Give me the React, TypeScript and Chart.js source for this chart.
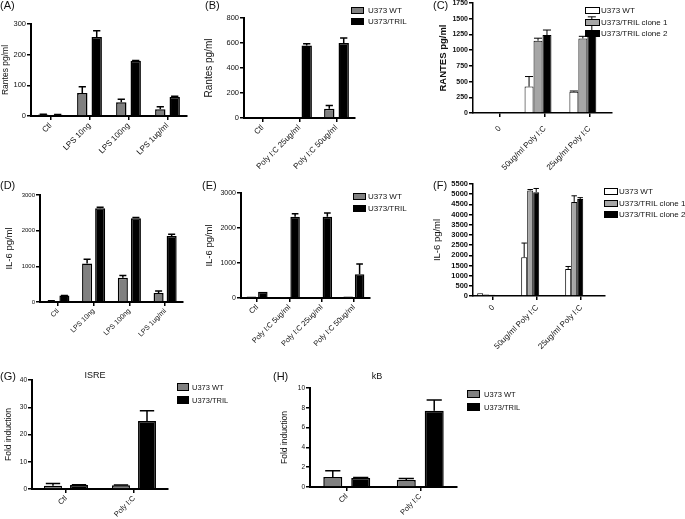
import React, { useEffect, useRef } from "react";
import { Chart, registerables } from "chart.js";

Chart.register(...registerables);

const W = 685;
const H = 519;
const FONT = "'Liberation Sans', Arial, Helvetica, sans-serif";

// ---------- data ----------
const lpsCats = ["Ctl", "LPS 10ng", "LPS 100ng", "LPS 1ug/ml"];
const bCats = ["Ctl", "Poly I:C 25ug/ml", "Poly I:C 50ug/ml"];
const cloneCatsC = ["0", "50ug/ml Poly I:C", "25ug/ml Poly I:C"];
const eCats = ["Ctl", "Poly I:C 5ug/ml", "Poly I:C 25ug/ml", "Poly I:C 50ug/ml"];
const cloneCatsF = ["0", "50ug/ml Poly I:C", "25ug/ml Poly I:C"];
const repCats = ["Ctl", "Poly I:C"];

const aWT = [5, 75, 45, 22];
const aWTErr = [1, 20, 10, 8];
const aTRIL = [4, 258, 180, 62];
const aTRILErr = [1, 20, 1, 2];

const bWT = [5, 5, 75];
const bWTErr = [0, 0, 25];
const bTRIL = [5, 580, 600];
const bTRILErr = [0, 15, 40];

const cWT = [10, 420, 340];
const cWTErr = [0, 160, 10];
const cClone1 = [0, 1150, 1185];
const cClone1Err = [0, 40, 35];
const cClone2 = [0, 1240, 1320];
const cClone2Err = [0, 80, 210];

const dWT = [30, 1080, 680, 250];
const dWTErr = [5, 120, 60, 60];
const dTRIL = [180, 2630, 2350, 1850];
const dTRILErr = [5, 30, 20, 50];

const eWT = [40, 30, 20, 40];
const eWTErr = [0, 0, 0, 0];
const eTRIL = [180, 2320, 2320, 680];
const eTRILErr = [0, 90, 110, 290];

const fWT = [130, 1900, 1330];
const fWTErr = [0, 700, 120];
const fClone1 = [70, 5180, 4620];
const fClone1Err = [0, 50, 300];
const fClone2 = [60, 5100, 4760];
const fClone2Err = [0, 180, 70];

const gWT = [1.2, 1.4];
const gWTErr = [0.8, 0.1];
const gTRIL = [1.5, 25];
const gTRILErr = [0.1, 3.7];

const hWT = [1.0, 0.7];
const hWTErr = [0.65, 0.15];
const hTRIL = [0.9, 7.7];
const hTRILErr = [0.05, 1.1];

// ---------- styles ----------
const GRAY = "#808080";
const LGRAY = "#a6a6a6";
const BLACK = "#000000";
const WHITE = "#ffffff";

type Series = { label: string; values: number[]; errors: number[]; fill: string };
type Spec = {
  cats: string[];
  series: Series[];
  plot: { l: number; t: number; r: number; b: number };
  yMax: number;
  yStep: number;
  yTitle: string;
  titleX: number;
  titleSize: number;
  titleBold?: boolean;
  tickSize: number;
  tickBold?: boolean;
  xSize: number;
  xPad: number;
  catPct: number;
  barPct: number;
  xMin: number;
  xMax: number;
  shift: number;
  axisW: number;
  barBorder: number;
  errW: number;
  cap: number;
};

const errorBarPlugin = {
  id: "errbars",
  afterDatasetsDraw(chart: any, _args: any, opts: any) {
    const ctx = chart.ctx;
    const yScale = chart.scales.y;
    chart.data.datasets.forEach((ds: any, di: number) => {
      const meta = chart.getDatasetMeta(di);
      const errs: number[] = ds.errors || [];
      meta.data.forEach((bar: any, i: number) => {
        const e = errs[i];
        if (!e) return;
        const v = ds.data[i].y;
        const yTop = yScale.getPixelForValue(v + e);
        const { x, y, width } = bar.getProps(["x", "y", "width"], true);
        const c = width * opts.cap;
        ctx.save();
        ctx.strokeStyle = "#000";
        ctx.lineWidth = opts.width;
        ctx.beginPath();
        ctx.moveTo(x, y);
        ctx.lineTo(x, yTop);
        ctx.moveTo(x - c, yTop);
        ctx.lineTo(x + c, yTop);
        ctx.stroke();
        ctx.restore();
      });
    });
  },
};

const wt = (values: number[], errors: number[], fill = GRAY): Series => ({ label: "U373 WT", values, errors, fill });
const tril = (values: number[], errors: number[]): Series => ({ label: "U373/TRIL", values, errors, fill: BLACK });

const common = { xMin: -0.5, shift: 0, axisW: 2, barBorder: 1.5, errW: 1.5, cap: 0.35, xPad: 1 };

const specA: Spec = {
  ...common, cats: lpsCats, series: [wt(aWT, aWTErr), tril(aTRIL, aTRILErr)],
  plot: { l: 31, t: 24, r: 187, b: 116 }, yMax: 300, yStep: 100,
  yTitle: "Rantes pg/ml", titleX: 5.2, titleSize: 8.5, tickSize: 7.5, xSize: 8,
  catPct: 0.74, barPct: 0.72, xMax: 3.5,
};
const specB: Spec = {
  ...common, cats: bCats, series: [wt(bWT, bWTErr), tril(bTRIL, bTRILErr)],
  plot: { l: 244, t: 18, r: 355, b: 118 }, yMax: 800, yStep: 200,
  yTitle: "Rantes pg/ml", titleX: 209.5, titleSize: 10, tickSize: 7.5, xSize: 8,
  catPct: 0.78, barPct: 0.72, xMax: 2.5,
};
const specC: Spec = {
  cats: cloneCatsC,
  series: [
    { label: "U373 WT", values: cWT, errors: cWTErr, fill: WHITE },
    { label: "U373/TRIL clone 1", values: cClone1, errors: cClone1Err, fill: LGRAY },
    { label: "U373/TRIL clone 2", values: cClone2, errors: cClone2Err, fill: BLACK },
  ],
  plot: { l: 473, t: 3, r: 612, b: 113 }, yMax: 1750, yStep: 250,
  yTitle: "RANTES pg/ml", titleX: 443, titleSize: 9.5, titleBold: true, tickSize: 7, tickBold: true, xSize: 8, xPad: 7,
  catPct: 0.6, barPct: 1, xMin: -0.45, xMax: 2.65, shift: 0.15, axisW: 1.5, barBorder: 1, errW: 1, cap: 0.45,
};
const specD: Spec = {
  ...common, cats: lpsCats, series: [wt(dWT, dWTErr), tril(dTRIL, dTRILErr)],
  plot: { l: 40, t: 195, r: 183, b: 302 }, yMax: 3000, yStep: 1000,
  yTitle: "IL-6 pg/ml", titleX: 9, titleSize: 9.5, tickSize: 6, xSize: 7,
  catPct: 0.73, barPct: 0.77, xMax: 3.5,
};
const specE: Spec = {
  ...common, cats: eCats, series: [wt(eWT, eWTErr), tril(eTRIL, eTRILErr)],
  plot: { l: 241, t: 193, r: 370, b: 298 }, yMax: 3000, yStep: 1000,
  yTitle: "IL-6 pg/ml", titleX: 209.5, titleSize: 9.5, tickSize: 7, xSize: 7.5,
  catPct: 0.71, barPct: 0.83, xMax: 3.5,
};
const specF: Spec = {
  cats: cloneCatsF,
  series: [
    { label: "U373 WT", values: fWT, errors: fWTErr, fill: WHITE },
    { label: "U373/TRIL clone 1", values: fClone1, errors: fClone1Err, fill: LGRAY },
    { label: "U373/TRIL clone 2", values: fClone2, errors: fClone2Err, fill: BLACK },
  ],
  plot: { l: 473, t: 184, r: 605, b: 296 }, yMax: 5500, yStep: 500,
  yTitle: "IL-6 pg/ml", titleX: 437, titleSize: 9.5, tickSize: 7.5, tickBold: true, xSize: 8, xPad: 3,
  catPct: 0.41, barPct: 1, xMin: -0.3, xMax: 2.7, shift: 0.16, axisW: 1.5, barBorder: 1, errW: 1, cap: 0.45,
};
const specG: Spec = {
  ...common, cats: repCats, series: [wt(gWT, gWTErr), tril(gTRIL, gTRILErr)],
  plot: { l: 32, t: 380, r: 168, b: 489 }, yMax: 40, yStep: 10,
  yTitle: "Fold induction", titleX: 8.5, titleSize: 8.5, tickSize: 6.5, xSize: 7.5,
  catPct: 0.765, barPct: 0.69, xMax: 1.5, cap: 0.4,
};
const specH: Spec = {
  ...common, cats: repCats, series: [wt(hWT, hWTErr), tril(hTRIL, hTRILErr)],
  plot: { l: 310, t: 388, r: 457, b: 487 }, yMax: 10, yStep: 2,
  yTitle: "Fold induction", titleX: 284.5, titleSize: 8.5, tickSize: 6.5, xSize: 7.5,
  catPct: 0.76, barPct: 0.68, xMax: 1.5, cap: 0.4,
};

function Panel({ spec }: { spec: Spec }) {
  const ref = useRef<HTMLCanvasElement>(null);
  useEffect(() => {
    if (!ref.current) return;
    const s = spec;
    const lh = s.titleSize * 1.2;
    const padLeft = s.titleX - lh / 2;
    const yWidth = s.plot.l - padLeft;
    const xHeight = H - s.plot.b;
    const chart = new Chart(ref.current, {
      type: "bar",
      data: {
        datasets: s.series.map((se) => ({
          label: se.label,
          data: se.values.map((v, i) => ({ x: i, y: v })),
          errors: se.errors,
          backgroundColor: se.fill,
          borderColor: "#000",
          borderWidth: s.barBorder,
          categoryPercentage: s.catPct,
          barPercentage: s.barPct,
        })) as any,
      },
      options: {
        animation: false,
        responsive: false,
        devicePixelRatio: 1,
        layout: { padding: { left: padLeft, top: s.plot.t, right: W - s.plot.r, bottom: 0 } },
        plugins: {
          legend: { display: false },
          tooltip: { enabled: false },
          errbars: { width: s.errW, cap: s.cap },
        } as any,
        scales: {
          x: {
            type: "linear",
            offset: false,
            min: s.xMin,
            max: s.xMax,
            afterBuildTicks: (scale: any) => {
              scale.ticks = s.cats.map((_, i) => ({ value: i + s.shift }));
            },
            afterFit: (scale: any) => {
              scale.height = xHeight;
              scale.paddingLeft = 0;
              scale.paddingRight = 0;
            },
            ticks: {
              autoSkip: false,
              maxRotation: 45,
              minRotation: 45,
              padding: s.xPad,
              color: "#111",
              font: { family: FONT, size: s.xSize },
              callback: (_v: any, i: number) => s.cats[i],
            },
            grid: {
              display: true,
              offset: false,
              drawOnChartArea: false,
              drawTicks: true,
              tickLength: 4,
              color: "#000",
              lineWidth: 1.5,
            },
            border: { display: true, color: "#000", width: s.axisW },
          },
          y: {
            type: "linear",
            min: 0,
            max: s.yMax,
            afterFit: (scale: any) => {
              scale.width = yWidth;
              scale.paddingTop = 0;
              scale.paddingBottom = 0;
            },
            ticks: {
              stepSize: s.yStep,
              autoSkip: false,
              padding: 1,
              color: "#111",
              font: { family: FONT, size: s.tickSize, weight: s.tickBold ? "bold" : "normal" },
              callback: (v: any) => String(v),
            },
            grid: { display: true, drawOnChartArea: false, drawTicks: true, tickLength: 4, color: "#000", lineWidth: 1.5 },
            border: { display: true, color: "#000", width: s.axisW },
            title: {
              display: true,
              text: s.yTitle,
              color: "#111",
              padding: 0,
              font: { family: FONT, size: s.titleSize, weight: s.titleBold ? "bold" : "normal" },
            },
          },
        },
      } as any,
      plugins: [errorBarPlugin],
    });
    return () => chart.destroy();
  }, [spec]);
  return (
    <canvas
      ref={ref}
      width={W}
      height={H}
      style={{ position: "absolute", left: 0, top: 0, width: W, height: H }}
    />
  );
}

type LegendSpec = {
  series: Series[];
  x: number;
  tops: number[];
  boxW: number;
  boxH: number;
  textX: number;
  size: number;
  border: number;
};

function Legend({ l }: { l: LegendSpec }) {
  return (
    <>
      {l.series.map((se, i) => (
        <React.Fragment key={i}>
          <div
            style={{
              position: "absolute",
              left: l.x,
              top: l.tops[i],
              width: l.boxW,
              height: l.boxH,
              boxSizing: "border-box",
              border: `${l.border}px solid #000`,
              background: se.fill,
            }}
          />
          <div
            style={{
              position: "absolute",
              left: l.textX,
              top: l.tops[i] + l.boxH / 2 - l.size * 0.6,
              height: l.size * 1.2,
              lineHeight: `${l.size * 1.2}px`,
              fontSize: l.size,
              fontFamily: FONT,
              color: "#111",
              whiteSpace: "nowrap",
            }}
          >
            {se.label}
          </div>
        </React.Fragment>
      ))}
    </>
  );
}

function Label({ text, x, cy, size }: { text: string; x: number; cy: number; size: number }) {
  return (
    <div
      style={{
        position: "absolute",
        left: x,
        top: cy - size * 0.6,
        lineHeight: `${size * 1.2}px`,
        fontSize: size,
        fontFamily: FONT,
        color: "#111",
        whiteSpace: "nowrap",
      }}
    >
      {text}
    </div>
  );
}

function CenterLabel({ text, cx, cy, size }: { text: string; cx: number; cy: number; size: number }) {
  return (
    <div
      style={{
        position: "absolute",
        left: cx - 40,
        width: 80,
        textAlign: "center",
        top: cy - size * 0.6,
        lineHeight: `${size * 1.2}px`,
        fontSize: size,
        fontFamily: FONT,
        color: "#111",
        whiteSpace: "nowrap",
      }}
    >
      {text}
    </div>
  );
}

const specs = [specA, specB, specC, specD, specE, specF, specG, specH];

export default function App() {
  return (
    <div
      style={{
        position: "absolute",
        left: 0,
        top: 0,
        width: W,
        height: H,
        background: "#fff",
        overflow: "hidden",
      }}
    >
      {specs.map((s, i) => (
        <Panel key={i} spec={s} />
      ))}
      <Label text="(A)" x={0} cy={6} size={11} />
      <Label text="(B)" x={205} cy={6} size={11} />
      <Label text="(C)" x={433} cy={6} size={11} />
      <Label text="(D)" x={0} cy={186} size={11} />
      <Label text="(E)" x={202} cy={186} size={11} />
      <Label text="(F)" x={433} cy={186} size={11} />
      <Label text="(G)" x={0} cy={377} size={11} />
      <Label text="(H)" x={273} cy={377} size={11} />
      <CenterLabel text="ISRE" cx={95} cy={375} size={9} />
      <CenterLabel text="kB" cx={377} cy={376} size={9} />
      <Legend l={{ series: specB.series, x: 351, tops: [7, 18], boxW: 13, boxH: 7, textX: 368, size: 8, border: 1.5 }} />
      <Legend l={{ series: specC.series, x: 585, tops: [7, 19, 30], boxW: 15, boxH: 7, textX: 601, size: 8, border: 1 }} />
      <Legend l={{ series: specE.series, x: 353, tops: [193, 205], boxW: 13, boxH: 7, textX: 368, size: 8, border: 1.5 }} />
      <Legend l={{ series: specF.series, x: 604, tops: [188, 200, 211], boxW: 14, boxH: 7, textX: 619, size: 8, border: 1 }} />
      <Legend l={{ series: specG.series, x: 177, tops: [383, 396], boxW: 12, boxH: 8, textX: 192, size: 7.5, border: 1.5 }} />
      <Legend l={{ series: specH.series, x: 467, tops: [390, 403], boxW: 13, boxH: 8, textX: 484, size: 7.5, border: 1.5 }} />
    </div>
  );
}
